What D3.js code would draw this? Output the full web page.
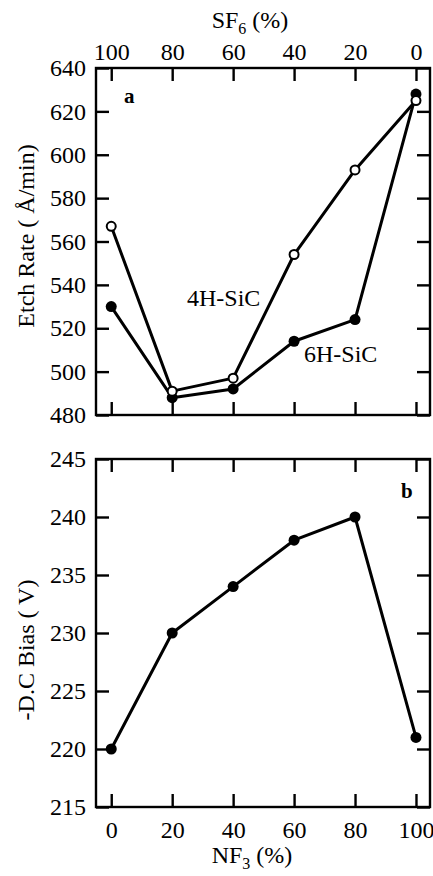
<!DOCTYPE html>
<html><head><meta charset="utf-8">
<script src="https://cdn.jsdelivr.net/npm/d3@7"></script>
<style>
html,body{margin:0;padding:0;background:#fff;}
svg{display:block;}
text{font-family:"Liberation Serif","Times New Roman",serif;fill:#000;}
</style></head>
<body>
<svg id="chart" width="433" height="876"></svg>
<script>
const nf3 = [0, 20, 40, 60, 80, 100];
const sf6Labels = ["100", "80", "60", "40", "20", "0"];
const etch4H = [567, 491, 497, 554, 593, 625];
const etch6H = [530, 488, 492, 514, 524, 628];
const dcBias = [220, 230, 234, 238, 240, 221];
const etchTicks = [480, 500, 520, 540, 560, 580, 600, 620, 640];
const biasTicks = [215, 220, 225, 230, 235, 240, 245];

const svg = d3.select("#chart");
const L = 96, R = 430;
const x = d3.scaleLinear().domain([-5, 104.6]).range([L, R]);
const yA = d3.scaleLinear().domain([480, 640]).range([415, 68]);
const yB = d3.scaleLinear().domain([215, 245]).range([807, 459]);
const FS = 24;
const TK = 13;

function panel(y, yTicks, topLabels, bottomLabels) {
  const g = svg.append("g");
  const [y0, y1] = y.range();
  const bot = g.append("g").attr("transform", `translate(0,${y0})`)
    .call(d3.axisBottom(x).tickValues(nf3).tickSize(-TK).tickPadding(14)
      .tickFormat(bottomLabels ? d3.format("d") : () => ""));
  const top = g.append("g").attr("transform", `translate(0,${y1})`)
    .call(d3.axisTop(x).tickValues(nf3).tickSize(-TK).tickPadding(8)
      .tickFormat(topLabels ? (d, i) => sf6Labels[i] : () => ""));
  const left = g.append("g").attr("transform", `translate(${L},0)`)
    .call(d3.axisLeft(y).tickValues(yTicks).tickSize(-TK).tickPadding(10).tickFormat(d3.format("d")));
  const right = g.append("g").attr("transform", `translate(${R},0)`)
    .call(d3.axisRight(y).tickValues(yTicks).tickSize(-TK).tickFormat(() => ""));
  [bot, top, left, right].forEach(a => {
    a.select(".domain").remove();
    a.attr("font-family", null).attr("font-size", null);
    a.selectAll(".tick line").attr("stroke", "#000").attr("stroke-width", 2.4);
    a.selectAll(".tick text").attr("font-size", FS);
  });
  g.append("rect").attr("x", L).attr("y", y1).attr("width", R - L).attr("height", y0 - y1)
    .attr("fill", "none").attr("stroke", "#000").attr("stroke-width", 2.4);
  return g;
}

panel(yA, etchTicks, true, false);
panel(yB, biasTicks, false, true);

function series(y, vals, filled) {
  const pts = nf3.map((d, i) => [x(d), y(vals[i])]);
  svg.append("path").attr("d", d3.line()(pts)).attr("fill", "none")
    .attr("stroke", "#000").attr("stroke-width", 3).attr("stroke-linejoin", "round");
  svg.append("g").selectAll("circle").data(pts).join("circle")
    .attr("cx", d => d[0]).attr("cy", d => d[1])
    .attr("r", filled ? 5.5 : 4.5)
    .attr("fill", filled ? "#000" : "#fff")
    .attr("stroke", "#000").attr("stroke-width", filled ? 0 : 2);
}
series(yA, etch6H, true);
series(yA, etch4H, false);
series(yB, dcBias, true);

const sf = svg.append("text").attr("x", 250).attr("y", 28).attr("text-anchor", "middle").attr("font-size", FS);
sf.append("tspan").text("SF");
sf.append("tspan").attr("font-size", 16).attr("dy", 6).text("6");
sf.append("tspan").attr("dy", -6).text(" (%)");

const nf = svg.append("text").attr("x", 252).attr("y", 863).attr("text-anchor", "middle").attr("font-size", FS);
nf.append("tspan").text("NF");
nf.append("tspan").attr("font-size", 16).attr("dy", 6).text("3");
nf.append("tspan").attr("dy", -6).text(" (%)");

svg.append("text").attr("transform", "translate(34,236) rotate(-90)")
  .attr("text-anchor", "middle").attr("font-size", FS).text("Etch Rate ( Å/min)");
svg.append("text").attr("transform", "translate(34,650) rotate(-90)")
  .attr("text-anchor", "middle").attr("font-size", FS).text("-D.C Bias ( V)");

svg.append("text").attr("x", 124).attr("y", 103).attr("font-size", 21).attr("font-weight", "bold").text("a");
svg.append("text").attr("x", 401).attr("y", 498).attr("font-size", 21).attr("font-weight", "bold").text("b");
svg.append("text").attr("x", 187).attr("y", 306).attr("font-size", FS).text("4H-SiC");
svg.append("text").attr("x", 304).attr("y", 362).attr("font-size", FS).text("6H-SiC");
</script>
</body></html>
